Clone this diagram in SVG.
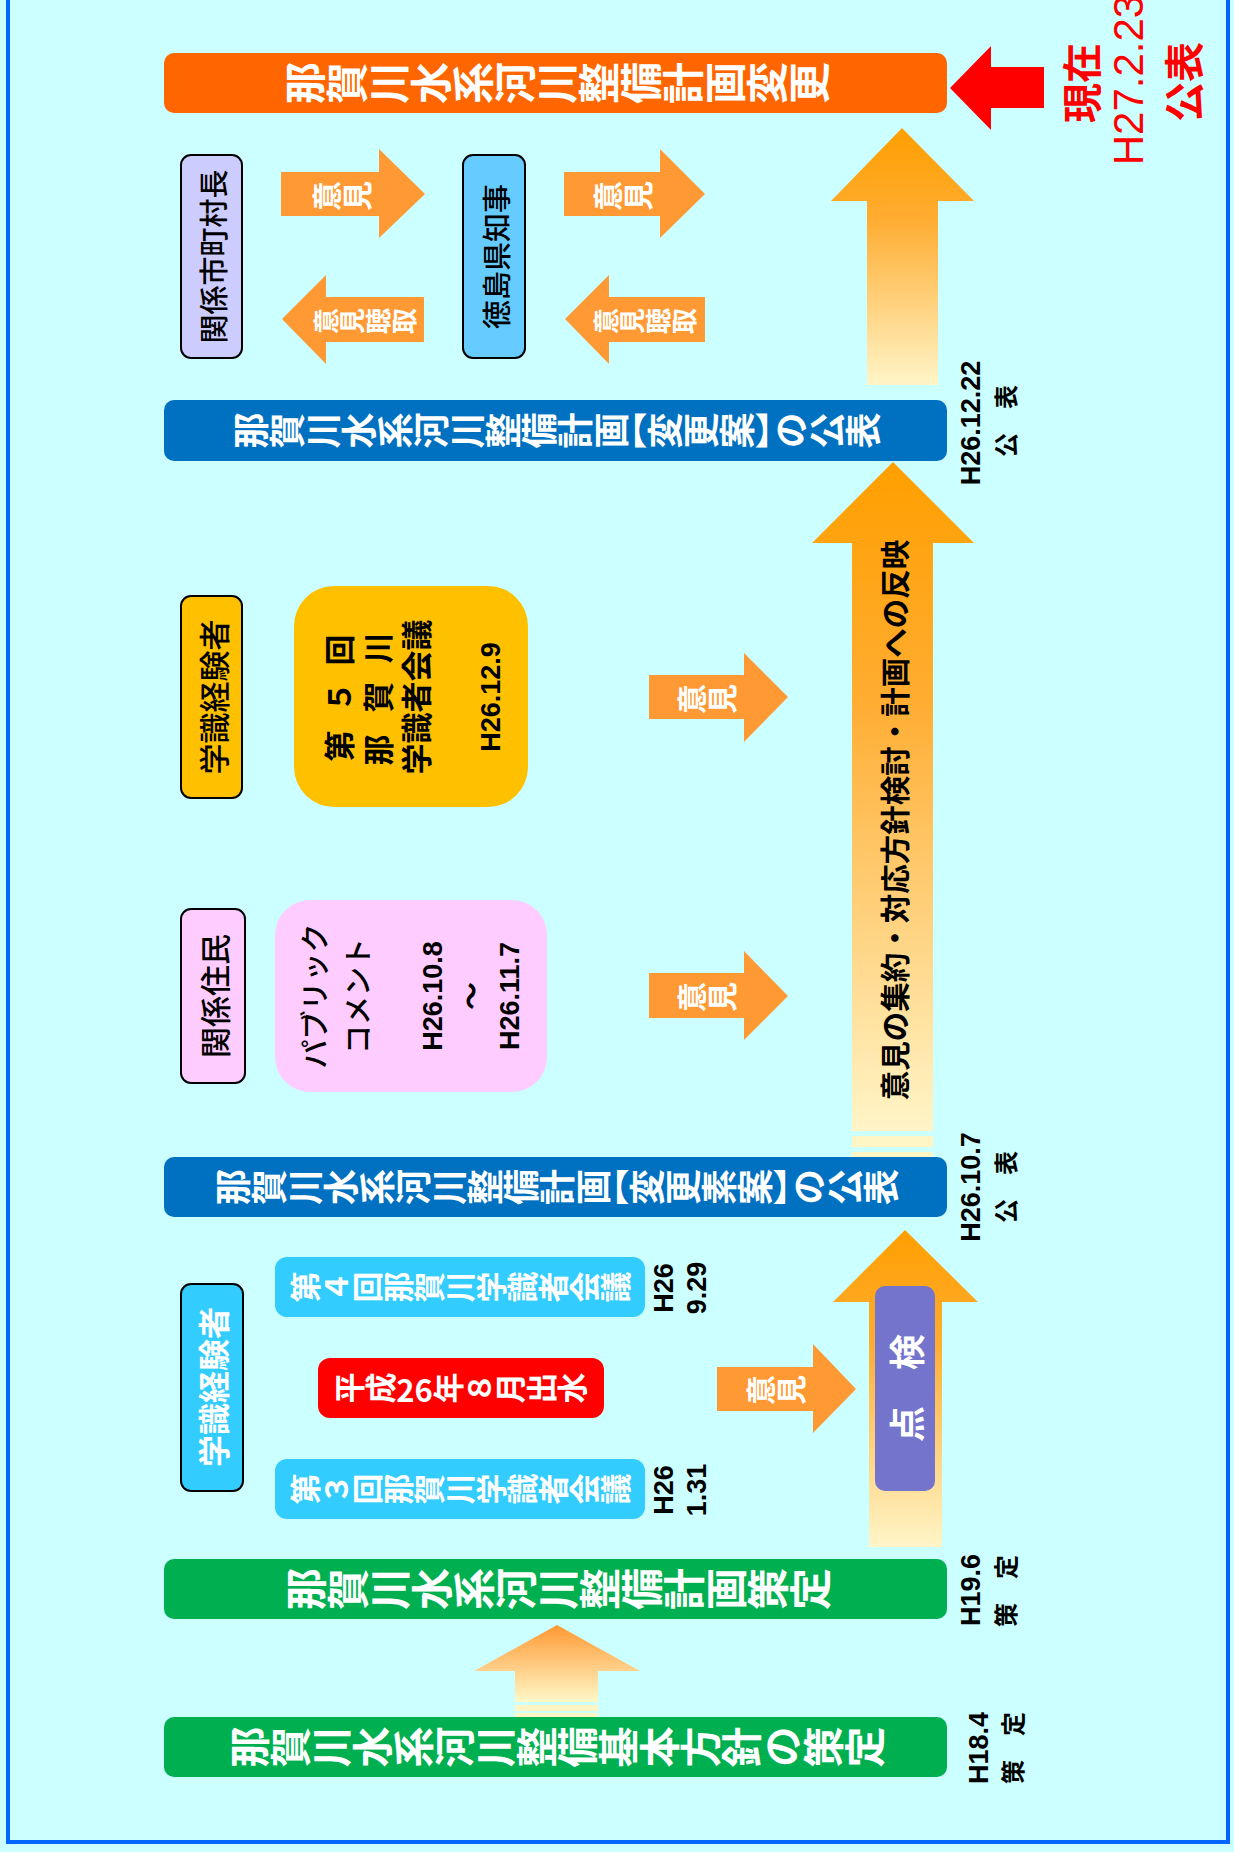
<svg xmlns="http://www.w3.org/2000/svg" width="1234" height="1852" viewBox="0 0 1234 1852">
<defs>
<linearGradient id="gA" x1="0" y1="0" x2="0" y2="1">
<stop offset="0" stop-color="#FF9933"/><stop offset="1" stop-color="#FFF8C8"/>
</linearGradient>
<linearGradient id="gB" x1="0" y1="0" x2="0" y2="1">
<stop offset="0" stop-color="#FF9F00"/><stop offset="0.35" stop-color="#FFAC30"/><stop offset="1" stop-color="#FFF5C8"/>
</linearGradient>
<style>
.vt{font-family:"Noto Sans CJK JP",sans-serif;font-weight:700;fill:#fff;writing-mode:vertical-rl;text-anchor:middle}
.ht{font-family:"Noto Sans CJK JP",sans-serif;text-anchor:middle;dominant-baseline:central;fill:#000}
.lat{font-family:"Liberation Sans","Noto Sans CJK JP",sans-serif;font-weight:700;text-anchor:middle;dominant-baseline:central;fill:#000}
.box{stroke:#000;stroke-width:2}
.op{fill:#FF9933}
.strp{fill:#FFF5C5}
</style>
</defs>
<rect x="0" y="0" width="1234" height="1852" fill="#CCFFFF"/>
<rect x="8" y="-10" width="1220" height="1852" fill="none" stroke="#0066FF" stroke-width="4"/>

<g id="connectors">
<polygon points="557,1625 640,1671 598,1671 598,1702 515,1702 515,1671 474,1671" fill="url(#gA)"/>
<rect class="strp" x="515" y="1705" width="83" height="6"/>
<rect class="strp" x="515" y="1713" width="83" height="4"/>
<polygon points="905,1230 978,1302 942,1302 942,1547 869,1547 869,1302 833,1302" fill="url(#gB)"/>
<polygon points="893,462 974,543 933,543 933,1131 852,1131 852,543 812,543" fill="url(#gB)"/>
<rect class="strp" x="852" y="1136" width="81" height="11"/>
<rect class="strp" x="852" y="1152" width="81" height="5"/>
<polygon points="902,128 974,201 938,201 938,385 867,385 867,201 831,201" fill="url(#gB)"/>
<polygon points="950,88 991,46 991,67 1044,67 1044,108 991,108 991,130" fill="#FF0000"/>
<g id="arrow-r1"><polygon class="op" points="281,172 379,172 379,149 425,194 379,238 379,216 281,216"/><text class="vt" font-size="30" font-weight="500" x="-196" y="342" transform="rotate(-90)">意見</text></g>
<g id="arrow-r2"><polygon class="op" points="564,172 660,172 660,149 705,194 660,238 660,216 564,216"/><text class="vt" font-size="30" font-weight="500" x="-196" y="623" transform="rotate(-90)">意見</text></g>
<g id="arrow-l1"><polygon class="op" points="282,319 326,275 326,297 424,297 424,342 326,342 326,364"/><text class="vt" font-size="26" font-weight="500" x="-321" y="365" transform="rotate(-90)">意見聴取</text></g>
<g id="arrow-l2"><polygon class="op" points="565,319 609,275 609,297 705,297 705,342 609,342 609,364"/><text class="vt" font-size="26" font-weight="500" x="-321" y="645" transform="rotate(-90)">意見聴取</text></g>
<g id="arrow-r3"><polygon class="op" points="649,675 744,675 744,653 788,697 744,742 744,719 649,719"/><text class="vt" font-size="30" font-weight="500" x="-699" y="707" transform="rotate(-90)">意見</text></g>
<g id="arrow-r4"><polygon class="op" points="649,973 744,973 744,951 788,996 744,1040 744,1018 649,1018"/><text class="vt" font-size="30" font-weight="500" x="-997" y="707" transform="rotate(-90)">意見</text></g>
<g id="arrow-r5"><polygon class="op" points="717,1367 813,1367 813,1344 856,1389 813,1433 813,1411 717,1411"/><text class="vt" font-size="30" font-weight="500" x="-1390" y="776" transform="rotate(-90)">意見</text></g>
<text class="ht" font-size="29.5" font-weight="700" x="-820" y="893" transform="rotate(-90)">意見の集約・対応方針検討・計画への反映</text>
</g>

<g id="tenken">
<rect x="875" y="1286" width="60" height="205" rx="10" fill="#7474CC"/>
<text class="ht" font-size="36" font-weight="700" x="-1388" y="905" style="fill:#fff" transform="rotate(-90)">点　検</text>
</g>

<g id="plan-change">
<rect x="164" y="53" width="783" height="60" rx="10" fill="#FF6600"/>
<text class="vt" font-size="42" x="-83" y="557" transform="rotate(-90)">那賀川水系河川整備計画変更</text>
</g>
<g id="genzai">
<text class="ht" font-size="40" font-weight="700" x="-83" y="1080" style="fill:#FF0000" transform="rotate(-90)">現在</text>
<text font-family="Liberation Sans, sans-serif" font-size="42" text-anchor="middle" dominant-baseline="central" fill="#FF0000" x="-80" y="1128" transform="rotate(-90)">H27.2.23</text>
<text class="ht" font-size="40" font-weight="700" x="-82" y="1182" style="fill:#FF0000" transform="rotate(-90)">公表</text>
</g>

<g id="shichoson">
<rect class="box" x="181" y="155" width="61" height="203" rx="10" fill="#CCCCFF"/>
<text class="ht" font-size="29" font-weight="500" x="-256.5" y="212" transform="rotate(-90)">関係市町村長</text>
</g>
<g id="chiji">
<rect class="box" x="463" y="155" width="62" height="203" rx="10" fill="#66CCFF"/>
<text class="ht" font-size="29" font-weight="500" x="-256.5" y="495" transform="rotate(-90)">徳島県知事</text>
</g>

<g id="plan-draft">
<rect x="164" y="400" width="783" height="61" rx="10" fill="#0070C0"/>
<text class="vt" font-size="36" x="-430.5" y="557" transform="rotate(-90)">那賀川水系河川整備計画<tspan dy="-18">【</tspan>変更案】<tspan dy="-18">の公表</tspan></text>
<text class="lat" font-size="27" x="-423" y="971" transform="rotate(-90)">H26.12.22</text>
<text class="ht" font-size="24" font-weight="700" x="-421" y="1004" transform="rotate(-90)">公　表</text>
</g>

<g id="gakushiki-a">
<rect class="box" x="181" y="596" width="61" height="202" rx="10" fill="#FFC000"/>
<text class="ht" font-size="31" font-weight="500" x="-697" y="212" transform="rotate(-90)">学識経験者</text>
</g>
<g id="kaigi5">
<rect x="294" y="586" width="234" height="221" rx="40" fill="#FFC000"/>
<text class="ht" font-size="31" font-weight="700" x="-746 -697 -650" y="337" transform="rotate(-90)">第５回</text>
<text class="ht" font-size="31" font-weight="700" x="-750 -697 -648" y="376" transform="rotate(-90)">那賀川</text>
<text class="ht" font-size="31" font-weight="700" x="-697" y="414" transform="rotate(-90)">学識者会議</text>
<text class="lat" font-size="27" x="-697" y="491" transform="rotate(-90)">H26.12.9</text>
</g>

<g id="jumin">
<rect class="box" x="181" y="909" width="64" height="174" rx="10" fill="#FFCCFF"/>
<text class="ht" font-size="31" font-weight="500" x="-996" y="213" transform="rotate(-90)">関係住民</text>
</g>
<g id="pubcom">
<rect x="275" y="900" width="272" height="192" rx="35" fill="#FFCCFF"/>
<text class="ht" font-size="29" font-weight="500" x="-996" y="313" transform="rotate(-90)">パブリック</text>
<text class="ht" font-size="29" font-weight="500" x="-996" y="356" transform="rotate(-90)">コメント</text>
<text class="lat" font-size="27" x="-996" y="433" transform="rotate(-90)">H26.10.8</text>
<text class="ht" font-size="28" font-weight="700" x="-996" y="470" transform="rotate(-90)">～</text>
<text class="lat" font-size="27" x="-996" y="510" transform="rotate(-90)">H26.11.7</text>
</g>

<g id="plan-sketch">
<rect x="164" y="1157" width="783" height="60" rx="10" fill="#0070C0"/>
<text class="vt" font-size="36" x="-1187" y="557" transform="rotate(-90)">那賀川水系河川整備計画<tspan dy="-18">【</tspan>変更素案】<tspan dy="-18">の公表</tspan></text>
<text class="lat" font-size="27" x="-1187" y="971" transform="rotate(-90)">H26.10.7</text>
<text class="ht" font-size="24" font-weight="700" x="-1187" y="1004" transform="rotate(-90)">公　表</text>
</g>

<g id="gakushiki-b">
<rect class="box" x="181" y="1284" width="62" height="207" rx="10" fill="#33CCFF"/>
<text class="ht" font-size="32" font-weight="700" x="-1387" y="212" style="fill:#fff" transform="rotate(-90)">学識経験者</text>
</g>
<g id="kaigi4">
<rect x="275" y="1257" width="370" height="60" rx="12" fill="#33CCFF"/>
<text class="vt" font-size="31" x="-1287" y="460" transform="rotate(-90)">第４回那賀川学識者会議</text>
<text class="lat" font-size="27" x="-1288" y="664" transform="rotate(-90)">H26</text>
<text class="lat" font-size="27" x="-1288" y="697" transform="rotate(-90)">9.29</text>
</g>
<g id="flood">
<rect x="318" y="1358" width="286" height="60" rx="12" fill="#FF0000"/>
<text class="vt" font-size="31" x="-1388" y="461" transform="rotate(-90)">平成26年８月出水</text>
</g>
<g id="kaigi3">
<rect x="275" y="1459" width="370" height="60" rx="12" fill="#33CCFF"/>
<text class="vt" font-size="31" x="-1489" y="460" transform="rotate(-90)">第３回那賀川学識者会議</text>
<text class="lat" font-size="27" x="-1490" y="664" transform="rotate(-90)">H26</text>
<text class="lat" font-size="27" x="-1490" y="697" transform="rotate(-90)">1.31</text>
</g>

<g id="plan-2007">
<rect x="164" y="1559" width="783" height="60" rx="10" fill="#00B050"/>
<text class="vt" font-size="42" x="-1589" y="558" transform="rotate(-90)">那賀川水系河川整備計画策定</text>
<text class="lat" font-size="27" x="-1590" y="971" transform="rotate(-90)">H19.6</text>
<text class="ht" font-size="24" font-weight="700" x="-1591" y="1004" transform="rotate(-90)">策　定</text>
</g>
<g id="policy-2006">
<rect x="164" y="1717" width="783" height="60" rx="10" fill="#00B050"/>
<text class="vt" font-size="41" x="-1747" y="557" transform="rotate(-90)">那賀川水系河川整備基本方針の策定</text>
<text class="lat" font-size="27" x="-1748" y="979" transform="rotate(-90)">H18.4</text>
<text class="ht" font-size="24" font-weight="700" x="-1748" y="1011" transform="rotate(-90)">策　定</text>
</g>
</svg>
